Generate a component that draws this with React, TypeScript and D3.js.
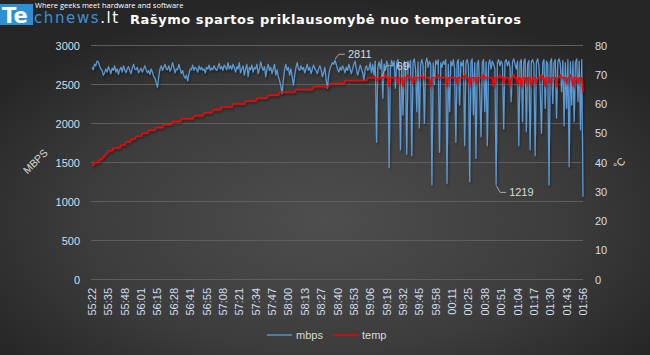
import React from "react";
import * as d3 from "d3";

const timeLabels = ["55:22","55:35","55:48","56:01","56:15","56:28","56:41","56:55","57:08","57:21","57:34","57:47","58:00","58:13","58:27","58:40","58:53","59:06","59:19","59:32","59:45","59:58","00:11","00:25","00:38","00:51","01:04","01:17","01:30","01:43","01:56"];

const mbps = [
2720,2690,2760,2740,2800,2790,2740,2700,2680,2620,
2650,2700,2660,2730,2690,2640,2710,2680,2740,2660,
2700,2630,2690,2720,2660,2740,2690,2650,2700,2730,
2680,2640,2710,2760,2700,2690,2720,2650,2680,2710,
2660,2700,2740,2690,2650,2680,2630,2700,2660,2600,
2580,2520,2465,2600,2700,2740,2680,2720,2760,2700,
2690,2740,2670,2710,2780,2720,2650,2700,2690,2760,
2700,2640,2680,2610,2580,2620,2545,2640,2700,2690,
2750,2680,2720,2700,2660,2740,2690,2720,2680,2700,
2650,2720,2700,2750,2680,2710,2690,2740,2700,2680,
2720,2770,2700,2730,2680,2750,2720,2690,2780,2700,
2740,2690,2760,2720,2660,2730,2700,2780,2650,2700,
2740,2620,2700,2760,2600,2720,2690,2750,2660,2720,
2700,2760,2640,2700,2790,2720,2680,2730,2600,2700,
2760,2680,2720,2640,2700,2760,2620,2690,2600,2550,
2480,2380,2560,2700,2760,2680,2720,2620,2700,2600,
2490,2620,2720,2780,2700,2680,2740,2690,2720,2650,
2700,2760,2680,2720,2640,2700,2750,2700,2680,2640,
2700,2740,2690,2600,2650,2720,2560,2450,2620,2700,
2740,2780,2760,2811,2760,2700,2660,2720,2680,2740,
2700,2650,2720,2680,2760,2700,2640,2700,2760,2800,
2700,2620,2680,2750,2700,2650,2560,2700,2740,2680,
2700,2780,2650,2760,2620,2800,1759,2720,2790,2700,
2820,2323,2760,2680,2800,2760,1433,2700,2810,2740,
2800,2451,2780,2820,2700,1660,2760,2109,2800,2760,
1605,2800,2720,2810,1587,2780,2830,2700,2151,2790,
1942,2760,2820,2740,2002,2780,2840,2720,2800,2760,
1212,2780,2500,2810,2760,2820,1630,2780,2720,2800,
2760,2820,1233,2760,2151,2800,2740,2820,2700,1759,
2780,2820,2237,2790,2740,2810,1715,2780,2820,2740,
1254,2790,2830,2109,2780,1554,2760,2810,2400,1831,
2780,2820,2151,2790,1715,2760,2820,2700,2800,2760,
2700,1219,2780,2820,2740,2800,2760,1930,2790,2820,
2740,2800,2720,2280,2790,2830,2760,2700,2800,1715,
2780,2820,2023,2790,2830,1895,2760,2810,1660,2790,
2820,2760,1587,2790,2830,2740,2450,1874,2780,2820,
2194,2800,2760,1212,2790,2830,2258,2780,2820,2067,
2790,2830,2760,2408,2810,1972,2780,2194,2820,1446,
2790,2237,2800,2023,2780,2830,2280,2800,1917,2820,
1062
];

const temp = [
39,39,40,40,40,40,41,41,41,42,
42,43,43,44,44,44,44,45,45,45,
45,45,45,46,46,46,46,47,47,47,
47,48,48,48,48,49,49,49,49,49,
50,50,50,50,50,51,51,51,51,51,
51,52,52,52,52,52,52,53,53,53,
53,53,53,53,54,54,54,54,54,54,
54,55,55,55,55,55,55,55,55,55,
55,56,56,56,56,56,56,56,56,57,
57,57,57,57,57,57,58,58,58,58,
58,58,58,59,59,59,59,59,59,59,
59,59,60,60,60,60,60,60,60,60,
60,60,61,61,61,61,61,61,61,61,
61,62,62,62,62,62,62,62,62,62,
63,63,63,63,63,63,63,63,63,64,
64,64,64,64,64,64,64,64,64,64,
64,64,65,65,65,65,65,65,65,65,
65,65,65,65,65,65,66,66,66,66,
66,66,66,66,66,66,66,66,66,67,
67,67,67,67,67,67,67,67,67,67,
67,68,68,68,68,68,68,68,68,68,
68,68,68,68,68,68,68,68,68,69,
69,69,69,69,69,69,69,68,69,69,
69,69,69,70,69,69,66,69,69,69,
69,69,69,67,69,69,69,66,69,69,
69,70,69,69,69,67,69,69,69,69,
69,69,70,69,69,69,69,69,69,66,
69,69,69,69,69,70,69,69,69,69,
69,69,66,69,69,69,69,69,69,69,
67,69,69,69,69,69,70,69,69,69,
66,69,69,69,69,67,69,69,69,69,
69,70,69,69,69,69,69,69,69,66,
69,69,69,69,70,69,69,67,69,69,
69,69,66,69,69,70,69,69,67,69,
69,66,69,69,69,67,69,69,69,66,
69,69,69,67,69,69,69,70,69,69,
66,69,69,69,67,69,69,69,69,66,
69,69,70,69,69,69,69,67,69,69,
70,69,66,69,69,69,67,69,69,69,
64
];

const leftTicks = [0, 500, 1000, 1500, 2000, 2500, 3000];
const rightTicks = [0, 10, 20, 30, 40, 50, 60, 70, 80];
const labelStep = 13;
const tempLabelIndex = 230;

export default function App() {
  const W = 650, H = 355;
  const N = mbps.length;
  const x = d3.scaleLinear().domain([0, N - 1]).range([92, 583]);
  const yL = d3.scaleLinear().domain([0, 3000]).range([279.5, 45.5]);
  const yR = d3.scaleLinear().domain([0, 80]).range([279.5, 45.5]);
  const lineB = d3.line<number>().x((_, i) => x(i)).y((d) => yL(d));
  const lineR = d3.line<number>().x((_, i) => x(i)).y((d) => yR(d));
  const tickFill = "#d2deec";
  const font = "'Liberation Sans', Arial, sans-serif";

  const maxI = mbps.indexOf(2811);
  const minI = mbps.indexOf(1219);
  const t69 = tempLabelIndex;
  const tv = temp[t69];

  return (
    <svg width={W} height={H} style={{ position: "absolute", left: 0, top: 0 }} fontFamily={font}>
      <defs>
        <radialGradient id="bg" cx="0.5" cy="0.62" r="0.62">
          <stop offset="0" stopColor="#4e4e4e" />
          <stop offset="0.6" stopColor="#3c3c3c" />
          <stop offset="1" stopColor="#262626" />
        </radialGradient>
        <filter id="sh" x="-5%" y="-5%" width="110%" height="120%">
          <feDropShadow dx="1" dy="2" stdDeviation="1" floodColor="#000" floodOpacity="0.45" />
        </filter>
      </defs>
      <rect x={0} y={0} width={W} height={H} fill="url(#bg)" />

      {/* logo */}
      <rect x={0} y={4} width={33} height={21} fill="#2f8fd3" />
      <text x={2} y={23} fill="#fff" fontFamily="'DejaVu Sans', sans-serif" fontWeight="bold" fontSize={21}>Te</text>
      <text x={34} y={23} fill="#3a92d6" fontFamily="'DejaVu Sans', sans-serif" fontSize={15} letterSpacing={1.6}>chnews<tspan fill="#fff">.lt</tspan></text>
      <text x={35} y={8} fill="#fff" fontSize={7.5} fontFamily="'Open Sans', sans-serif">Where geeks meet hardware and software</text>

      {/* title */}
      <text x={130} y={24} fill="#fff" fontFamily="'DejaVu Sans', Verdana, sans-serif" fontWeight="bold" fontSize={13} letterSpacing={0.55}>Rašymo spartos priklausomybė nuo temperatūros</text>

      {/* grid */}
      {leftTicks.map((t) => (
        <line key={"g" + t} x1={91} x2={583} y1={yL(t)} y2={yL(t)} stroke="#5e5e5e" strokeWidth={1} />
      ))}
      {leftTicks.map((t) => (
        <text key={"l" + t} x={80} y={yL(t) + 4} textAnchor="end" fill={tickFill} fontSize={11}>{t}</text>
      ))}
      {rightTicks.map((t) => (
        <text key={"r" + t} x={595} y={yR(t) + 4} textAnchor="start" fill={tickFill} fontSize={11}>{t}</text>
      ))}
      {timeLabels.map((lab, k) => {
        const xi = x(k * labelStep);
        return (
          <text key={"x" + k} transform={`translate(${xi + 4},288) rotate(-90)`} textAnchor="end" fill={tickFill} fontSize={11}>{lab}</text>
        );
      })}

      <text transform="translate(38,164) rotate(-45)" textAnchor="middle" fill="#d9d9d9" fontSize={10.5}>MBPS</text>
      <text transform="translate(622,166) rotate(-45)" textAnchor="middle" fill="#d9d9d9" fontSize={10.5}>°C</text>

      {/* series */}
      <path d={lineB(mbps) || ""} fill="none" stroke="#5b9bd5" strokeWidth={1.2} strokeLinejoin="round" filter="url(#sh)" />
      <path d={lineR(temp) || ""} fill="none" stroke="#ff0000" strokeWidth={1.5} strokeLinejoin="round" filter="url(#sh)" />

      {/* data labels */}
      <polyline points={`${x(maxI)},${yL(2811) - 1} ${x(maxI) + 4},${yL(2811) - 6} ${x(maxI) + 10},${yL(2811) - 6}`} fill="none" stroke="#a6a6a6" strokeWidth={1} />
      <text x={x(maxI) + 13} y={yL(2811) - 2} fill="#d9d9d9" fontSize={11}>2811</text>
      <polyline points={`${x(t69)},${yR(tv) - 1} ${x(t69) + 5},${yR(tv) - 12} ${x(t69) + 12},${yR(tv) - 12}`} fill="none" stroke="#a6a6a6" strokeWidth={1} />
      <text x={x(t69) + 15} y={yR(tv) - 8} fill="#d9d9d9" fontSize={11}>{tv}</text>
      <polyline points={`${x(minI)},${yL(1219) + 1} ${x(minI) + 4},${yL(1219) + 8} ${x(minI) + 10},${yL(1219) + 8}`} fill="none" stroke="#a6a6a6" strokeWidth={1} />
      <text x={x(minI) + 13} y={yL(1219) + 12} fill="#d9d9d9" fontSize={11}>1219</text>

      {/* legend */}
      <line x1={267} x2={292} y1={335} y2={335} stroke="#5b9bd5" strokeWidth={1.3} />
      <text x={296} y={339} fill="#d9d9d9" fontSize={11}>mbps</text>
      <line x1={333} x2={359} y1={335} y2={335} stroke="#ff0000" strokeWidth={1.3} />
      <text x={362} y={339} fill="#d9d9d9" fontSize={11}>temp</text>
    </svg>
  );
}
